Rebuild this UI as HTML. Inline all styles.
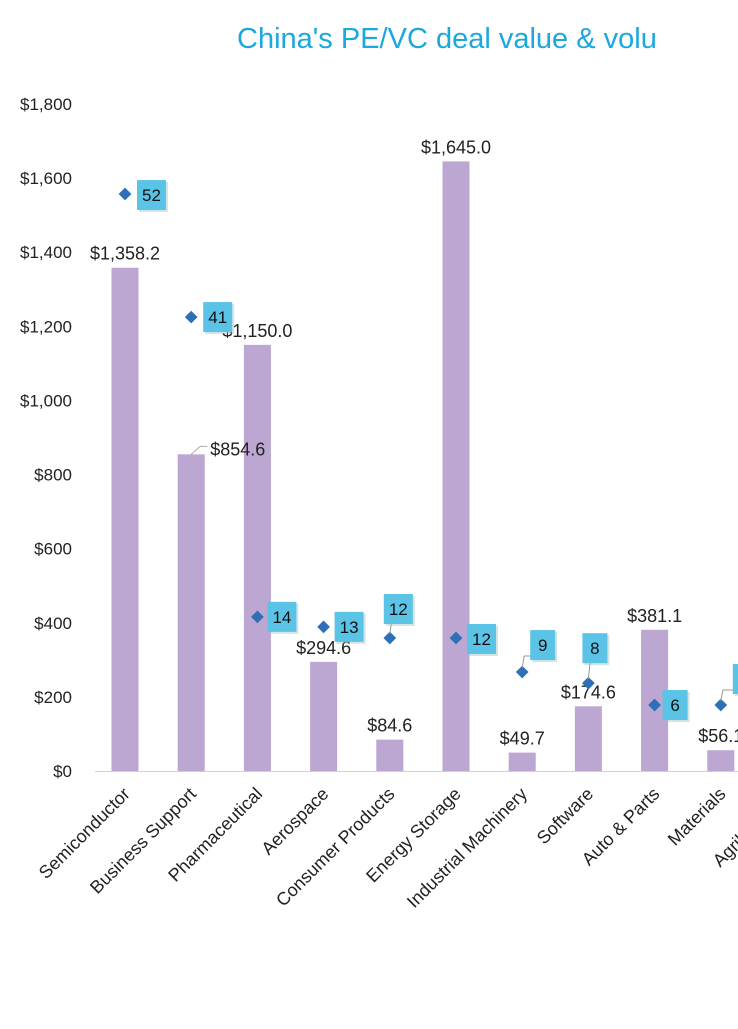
<!DOCTYPE html>
<html><head><meta charset="utf-8"><style>
body{margin:0;background:#fff;width:738px;height:1024px;overflow:hidden;font-family:"Liberation Sans",sans-serif}
svg text{font-family:"Liberation Sans",sans-serif}
</style></head><body>
<svg id="chart" width="738" height="1024" viewBox="0 0 738 1024" xmlns="http://www.w3.org/2000/svg">
<text x="237" y="48" font-size="29" fill="#1ba8de">China's PE/VC deal value &amp; volu</text>
<g id="grid"></g><g id="bars"></g><g id="labels"></g><g id="marks"></g>
</svg>
<script>
const categories=["Semiconductor","Business Support","Pharmaceutical","Aerospace","Consumer Products","Energy Storage","Industrial Machinery","Software","Auto & Parts","Materials","Agribusiness"];
const dealValues=[1358.2,854.6,1150.0,294.6,84.6,1645.0,49.7,174.6,381.1,56.1,0];
const dealCounts=[52,41,14,13,12,12,9,8,6,6,6];
const countPlotValues=[1557,1225,416,389,359,359,267,237,178,178,178];
const yTicks=[0,200,400,600,800,1000,1200,1400,1600,1800];
const yTickLabels=["$0","$200","$400","$600","$800","$1,000","$1,200","$1,400","$1,600","$1,800"];
const NS="http://www.w3.org/2000/svg";
const y=v=>771-v*(667/1800);
const x=i=>125+i*66.2;
function mk(tag,attrs,parent){const e=document.createElementNS(NS,tag);for(const k in attrs)e.setAttribute(k,attrs[k]);parent.appendChild(e);return e;}
const grid=document.getElementById('grid'),bars=document.getElementById('bars'),labels=document.getElementById('labels'),marks=document.getElementById('marks');
yTicks.forEach((t,i)=>{const tx=mk('text',{x:72,y:y(t)+6,'font-size':17,'text-anchor':'end',fill:'#222'},grid);tx.textContent=yTickLabels[i];

});
const ax=mk('line',{x1:95,x2:738,y1:771.5,y2:771.5,stroke:'#d0d0d0','stroke-width':1},grid);


categories.forEach((c,i)=>{
  const cx=x(i);
  if(dealValues[i]>0){
  const r=mk('rect',{x:cx-13.5,y:y(dealValues[i]),width:27,height:771-y(dealValues[i]),fill:'#bca6d2'},bars);
  
  
  const side=(i==1);
  const bl=mk('text',{x:side?cx+19:cx,y:side?y(dealValues[i])+1:y(dealValues[i])-8,'font-size':18,'text-anchor':side?'start':'middle',fill:'#222'},labels);
  bl.textContent='$'+dealValues[i].toLocaleString('en-US',{minimumFractionDigits:1,maximumFractionDigits:1});
  
  
  }
  const tl=mk('text',{transform:`translate(${cx+6},${795}) rotate(-45)`,'font-size':18,'text-anchor':'end',fill:'#222'},grid);
  tl.textContent=c;
  
  
});
mk('polyline',{points:`${x(1)},${y(854.6)} ${x(1)+9},${y(854.6)-8} ${x(1)+16},${y(854.6)-8}`,fill:'none',stroke:'#aaa'},labels);
const boxOff=[[12,-14],[12,-15],[10,-15],[11,-15],[-6,-44],[11,-14],[8,-42],[-6,-50],[8,-15],[12,-41],[12,-41]];
categories.forEach((c,i)=>{
  const cx=x(i),cy=y(countPlotValues[i]);
  const d=mk('rect',{x:cx-4.5,y:cy-4.5,width:9,height:9,fill:'#2e6fb7',transform:`rotate(45 ${cx} ${cy})`},marks);
  
  
  const [ox,oy]=boxOff[i];const w=dealCounts[i]>9?29:25;
  if(oy<-30)mk('polyline',{points:`${cx},${cy-4} ${cx+2},${cy+oy+26} ${cx+ox+2},${cy+oy+26}`,fill:'none',stroke:'#999'},marks);
  mk('rect',{x:cx+ox+2,y:cy+oy+2,width:w,height:30,fill:'#9bb',opacity:0.4},marks);
  const b=mk('rect',{x:cx+ox,y:cy+oy,width:w,height:30,fill:'#5bc3e6'},marks);
  
  
  const t=mk('text',{x:cx+ox+w/2,y:cy+oy+21,'font-size':17,'text-anchor':'middle',fill:'#111'},marks);
  t.textContent=dealCounts[i];
  
  
});
</script>
</body></html>
